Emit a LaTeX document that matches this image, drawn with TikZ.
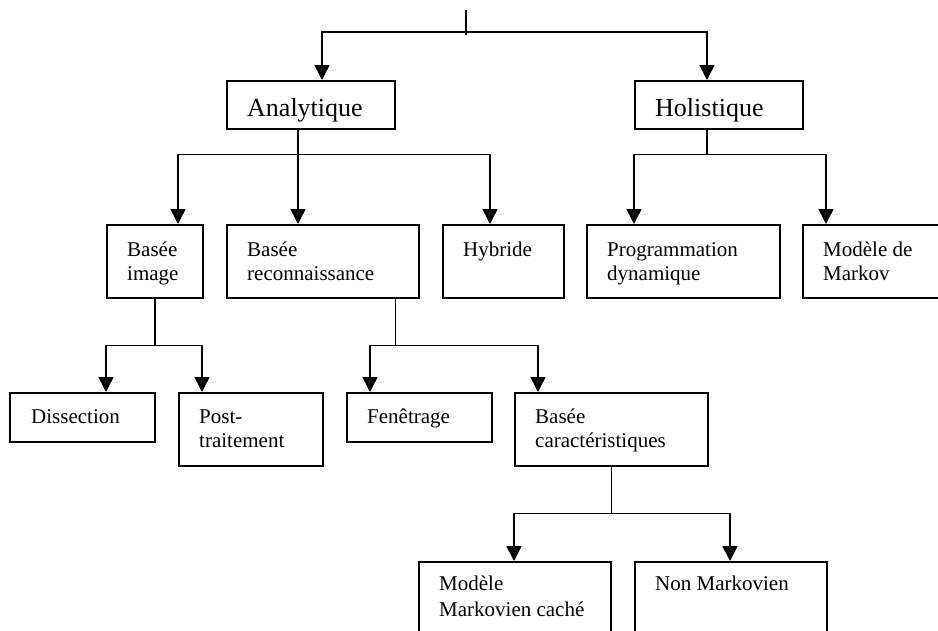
\documentclass[tikz,border=0pt]{standalone}
\usepackage{fontspec}
\setmainfont{Liberation Serif}
\usetikzlibrary{arrows.meta,calc}

\begin{document}
\begin{tikzpicture}[x=1pt,y=-1pt,
  box/.style={draw, line width=1.6pt, rectangle, anchor=north west, inner sep=0pt},
  bigtext/.style={font=\fontsize{26}{30}\selectfont, anchor=base west, inner sep=0pt},
  smalltext/.style={font=\fontsize{21}{24}\selectfont, anchor=base west, inner sep=0pt},
  link/.style={line width=1.6pt},
  arrow/.style={link, -{Triangle[length=15pt,width=15pt]}}]

\clip (0,0) rectangle (938,630);
\fill[white] (0,0) rectangle (938,630);

% level 1
\node[box, minimum width=168pt, minimum height=48pt] (ana) at (226,80) {};
\node[box, minimum width=168pt, minimum height=48pt] (hol) at (634,80) {};
\node[bigtext] (anaT) at ($(ana.north west)+(21,36)$) {Analytique};
\node[bigtext] (holT) at ($(hol.north west)+(21,36)$) {Holistique};

% level 2
\node[box, minimum width=96pt,  minimum height=73pt] (img)  at (106,224) {};
\node[box, minimum width=192pt, minimum height=73pt] (rec)  at (226,224) {};
\node[box, minimum width=121pt, minimum height=73pt] (hyb)  at (442,224) {};
\node[box, minimum width=193pt, minimum height=73pt] (prog) at (586,224) {};
\node[box, minimum width=160pt, minimum height=73pt] (mdm)  at (802,224) {};
\node[smalltext] (imgT)  at ($(img.north west)+(21,32)$)  {\parbox[t]{150pt}{Basée\\image}};
\node[smalltext] (recT)  at ($(rec.north west)+(21,32)$)  {\parbox[t]{170pt}{Basée\\reconnaissance}};
\node[smalltext] (hybT)  at ($(hyb.north west)+(21,32)$)  {Hybride};
\node[smalltext] (progT) at ($(prog.north west)+(21,32)$) {\parbox[t]{170pt}{Programmation\\dynamique}};
\node[smalltext] (mdmT)  at ($(mdm.north west)+(21,32)$)  {\parbox[t]{130pt}{Modèle de\\Markov}};

% level 3
\node[box, minimum width=145pt, minimum height=49pt] (dis)  at (9,392) {};
\node[box, minimum width=144pt, minimum height=73pt] (post) at (178,392) {};
\node[box, minimum width=145pt, minimum height=49pt] (fen)  at (346,392) {};
\node[box, minimum width=193pt, minimum height=73pt] (car)  at (514,392) {};
\node[smalltext] (disT)  at ($(dis.north west)+(22,31)$)  {Dissection};
\node[smalltext] (postT) at ($(post.north west)+(21,31)$) {\parbox[t]{130pt}{Post-\\traitement}};
\node[smalltext] (fenT)  at ($(fen.north west)+(21,31)$)  {Fenêtrage};
\node[smalltext] (carT)  at ($(car.north west)+(21,31)$)  {\parbox[t]{170pt}{Basée\\caractéristiques}};

% level 4
\node[box, minimum width=192pt, minimum height=90pt] (mmc)  at (418,561) {};
\node[box, minimum width=192pt, minimum height=90pt] (nonm) at (634,561) {};
\node[smalltext] (mmcT)  at ($(mmc.north west)+(21,29)$)  {\parbox[t]{180pt}{\fontsize{21}{26}\selectfont Modèle\\Markovien caché}};
\node[smalltext] (nonmT) at ($(nonm.north west)+(21,29)$) {Non Markovien};

% root connector
\coordinate (root) at (466,10);
\coordinate (j0) at (466,32);
\draw[link] (root) -- (466,35);
\draw[arrow] (j0) -| ($(ana.north west)+(96,0)$);
\draw[arrow] (j0) -| ($(hol.north west)+(73,0)$);

% Analytique branches
\coordinate (jA) at ($(ana.south west)+(72,25)$);
\draw[link] ($(ana.south west)+(72,0)$) -- (jA);
\draw[arrow] (jA) -| ($(img.north west)+(72,0)$);
\draw[arrow] (jA) -- ($(rec.north west)+(72,0)$);
\draw[arrow] (jA) -| ($(hyb.north west)+(48,0)$);

% Holistique branches
\coordinate (jH) at ($(hol.south west)+(73,25)$);
\draw[link] ($(hol.south west)+(73,0)$) -- (jH);
\draw[arrow] (jH) -| ($(prog.north west)+(48,0)$);
\draw[arrow] (jH) -| ($(mdm.north west)+(24,0)$);

% Basee image branches
\coordinate (jI) at ($(img.south)+(0,47)$);
\draw[link] (img.south) -- (jI);
\draw[arrow] (jI) -| ($(dis.north west)+(97,0)$);
\draw[arrow] (jI) -| ($(post.north west)+(24,0)$);

% Basee reconnaissance branches
\coordinate (jR) at ($(rec.south east)+(-24,47)$);
\draw[link] ($(rec.south east)+(-24,0)$) -- (jR);
\draw[arrow] (jR) -| ($(fen.north west)+(24,0)$);
\draw[arrow] (jR) -| ($(car.north west)+(24,0)$);

% Basee caracteristiques branches
\coordinate (jC) at ($(car.south)+(0,47)$);
\draw[link] (car.south) -- (jC);
\draw[arrow] (jC) -| ($(mmc.north west)+(96,0)$);
\draw[arrow] (jC) -| ($(nonm.north west)+(96,0)$);
\end{tikzpicture}
\end{document}
